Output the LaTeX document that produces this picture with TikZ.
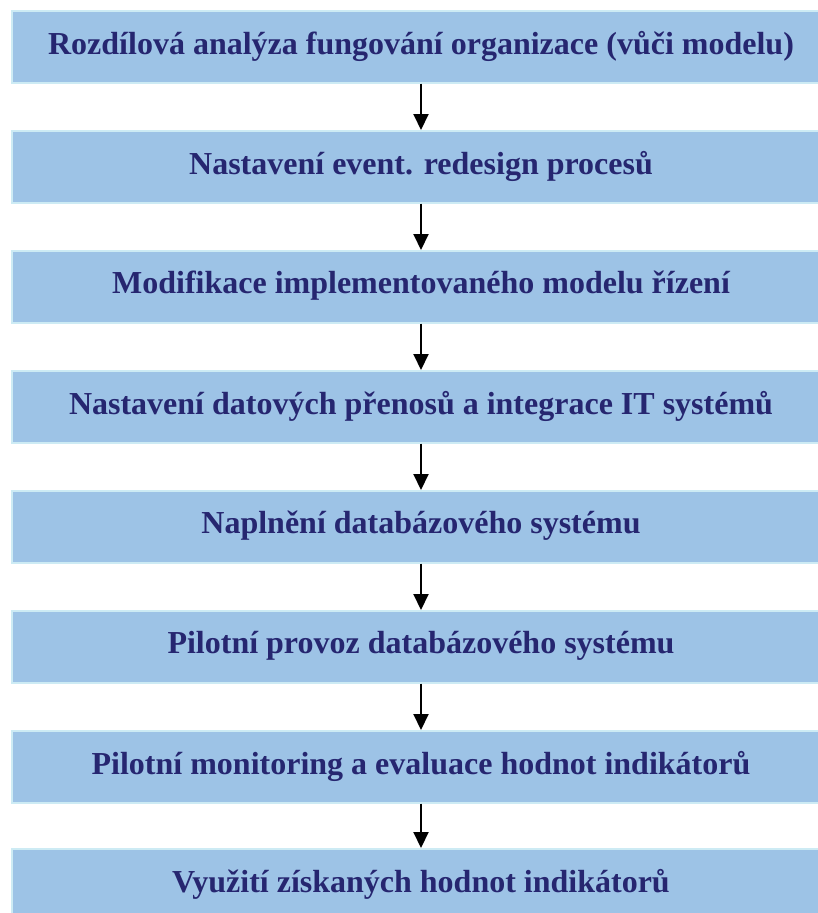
\documentclass[tikz,border=0pt]{standalone}
\usepackage{fontspec}
\setmainfont{Liberation Serif}
\usetikzlibrary{arrows.meta}
\definecolor{boxfill}{HTML}{9DC3E6}
\definecolor{boxline}{HTML}{CDEBF4}
\definecolor{txt}{HTML}{262670}
\tikzset{
  stepbox/.style={draw=boxline, line width=1.5pt, fill=boxfill, minimum width=840pt, minimum height=72pt, inner sep=0pt, anchor=north west, font=\fontsize{32pt}{36pt}\selectfont\bfseries, text=txt},
  steptext/.style={font=\fontsize{32pt}{36pt}\selectfont\bfseries, text=txt, inner sep=0pt},
  flow/.style={line width=2pt, -{Triangle[length=16pt,width=15pt]}}
}
\begin{document}
\begin{tikzpicture}[x=1pt,y=-1pt]
\useasboundingbox (0,0) rectangle (817,913);
\foreach \n/\y in {1/10,2/130,3/250,4/370,5/490,6/610,7/730,8/848}
  \node[stepbox] (b\n) at (11,\y) {};
\node[steptext] (t1) at (421,46) {Rozdílová analýza fungování organizace (vůči modelu)};
\node[steptext] (t2) at (421,166) {Nastavení event. redesign procesů};
\node[steptext] (t3) at (421,286) {Modifikace implementovaného modelu řízení};
\node[steptext] (t4) at (421,406) {Nastavení datových přenosů a integrace IT systémů};
\node[steptext] (t5) at (421,526) {Naplnění databázového systému};
\node[steptext] (t6) at (421,646) {Pilotní provoz databázového systému};
\node[steptext] (t7) at (421,766) {Pilotní monitoring a evaluace hodnot indikátorů};
\node[steptext] (t8) at (421,884) {Využití získaných hodnot indikátorů};
\foreach \a/\b in {1/2,2/3,3/4,4/5,5/6,6/7,7/8}
  \draw[flow] (b\a.south west -| t\a.center) -- (b\b.north west -| t\a.center);
\end{tikzpicture}
\end{document}
